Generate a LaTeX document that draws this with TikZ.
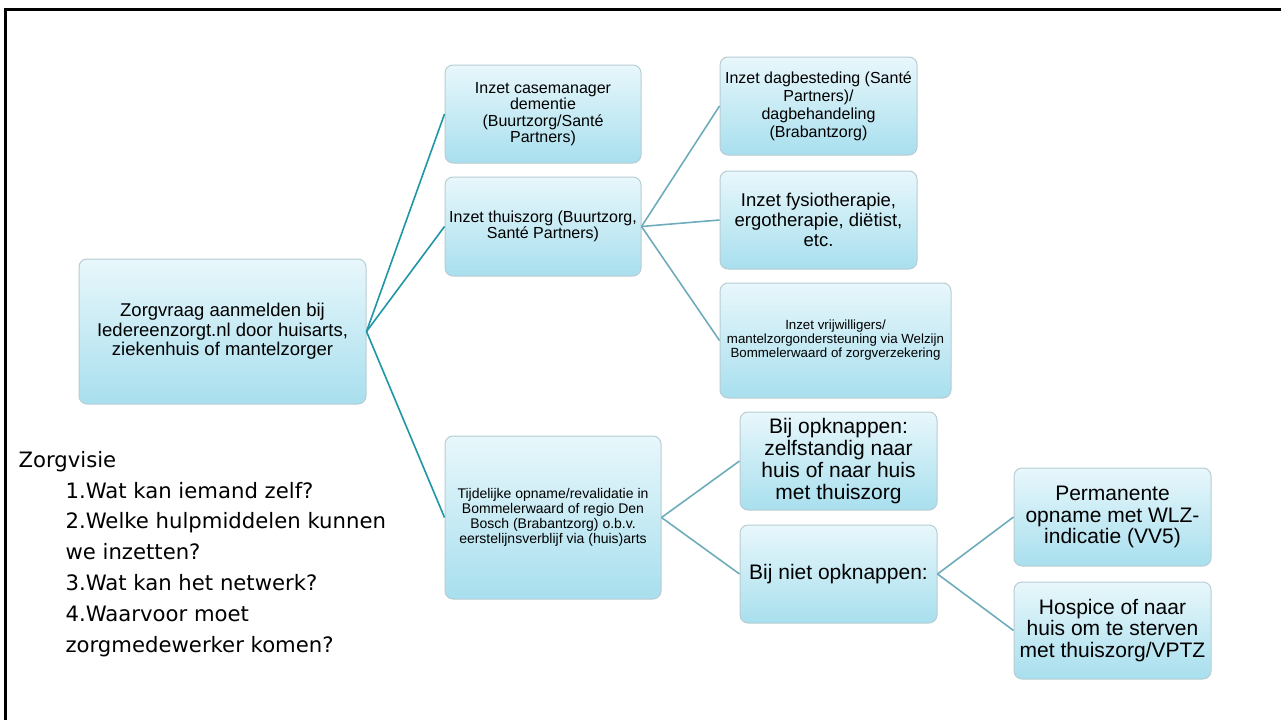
\documentclass[tikz,border=0pt]{standalone}
\usepackage{fontspec}
\setmainfont{Liberation Sans}
\newfontfamily\visiefont{DejaVu Sans}
\usepackage{tikz}

\definecolor{boxtop}{RGB}{232,247,251}
\definecolor{boxbottom}{RGB}{168,223,238}
\definecolor{boxline}{RGB}{184,204,211}
\definecolor{linkdark}{RGB}{30,150,165}
\definecolor{linklight}{RGB}{110,172,188}

\begin{document}
\begin{tikzpicture}[x=1pt,y=-1pt,
    box/.style={draw=boxline, line width=1pt, rounded corners=8pt, top color=boxtop, bottom color=boxbottom, align=center, inner sep=0pt},
    link/.style={linkdark, line width=1.6pt},
    sublink/.style={linklight, line width=1.6pt},
    visie/.style={anchor=base west, font=\visiefont\fontsize{21.2}{24}\selectfont}]
    \useasboundingbox (0,0) rectangle (1281,720);

    % Draw frame
    \draw[line width=3pt] (1281,9) -- (5.5,9) -- (5.5,720);

    % Draw boxes
    \node[box, minimum width=287pt, minimum height=145pt, font=\fontsize{18.5}{19.5}\selectfont] (root) at (222.5,331.5) {Zorgvraag aanmelden bij\\Iedereenzorgt.nl door huisarts,\\ziekenhuis of mantelzorger};
    \node[box, minimum width=196pt, minimum height=98pt, font=\fontsize{16}{16.5}\selectfont] (case) at (543,114) {Inzet casemanager\\dementie\\(Buurtzorg/Santé\\Partners)};
    \node[box, minimum width=196pt, minimum height=99pt, font=\fontsize{16}{16.5}\selectfont] (thuis) at (543,226.5) {Inzet thuiszorg (Buurtzorg,\\Santé Partners)};
    \node[box, minimum width=216pt, minimum height=163pt, font=\fontsize{14}{15}\selectfont] (tijd) at (553,517.5) {Tijdelijke opname/revalidatie in\\Bommelerwaard of regio Den\\Bosch (Brabantzorg) o.b.v.\\eerstelijnsverblijf via (huis)arts};

    \node[box, minimum width=197pt, minimum height=98pt, font=\fontsize{16}{18}\selectfont] (dag) at (818.5,106) {Inzet dagbesteding (Santé\\Partners)/\\dagbehandeling\\(Brabantzorg)};
    \node[box, minimum width=197pt, minimum height=98pt, font=\fontsize{18.5}{20}\selectfont] (fysio) at (818.5,220) {Inzet fysiotherapie,\\ergotherapie, diëtist,\\etc.};
    \node[box, minimum width=231pt, minimum height=115pt, font=\fontsize{13.3}{14}\selectfont] (vrijw) at (835.5,340.5) {Inzet vrijwilligers/\\mantelzorgondersteuning via Welzijn\\Bommelerwaard of zorgverzekering};
    \node[box, minimum width=197pt, minimum height=98pt, font=\fontsize{21}{22}\selectfont] (opk) at (838.5,461) {Bij opknappen:\\zelfstandig naar\\huis of naar huis\\met thuiszorg};
    \node[box, minimum width=197pt, minimum height=98pt, font=\fontsize{21}{22}\selectfont] (niet) at (838.5,574) {Bij niet opknappen:};

    \node[box, minimum width=197pt, minimum height=98pt, font=\fontsize{21}{21.7}\selectfont] (perm) at (1112.5,517) {Permanente\\opname met WLZ-\\indicatie (VV5)};
    \node[box, minimum width=197pt, minimum height=97pt, font=\fontsize{21}{21.7}\selectfont] (hosp) at (1112.5,630.5) {Hospice of naar\\huis om te sterven\\met thuiszorg/VPTZ};

    % Connect boxes
    \foreach \b in {case,thuis,tijd}
        \draw[link] (root.east) -- (\b.west);
    \foreach \a/\b in {thuis/dag,thuis/fysio,thuis/vrijw,tijd/opk,tijd/niet,niet/perm,niet/hosp}
        \draw[sublink] (\a.east) -- (\b.west);

    % Zorgvisie list
    \node[visie] (visie) at (15,467) {Zorgvisie};
    \foreach \txt [count=\i] in {1.Wat kan iemand zelf?,2.Welke hulpmiddelen kunnen,we inzetten?,3.Wat kan het netwerk?,4.Waarvoor moet,zorgmedewerker komen?}
        \node[visie] (visie\i) at (62,{498+(\i-1)*30.8}) {\txt};
\end{tikzpicture}
\end{document}
